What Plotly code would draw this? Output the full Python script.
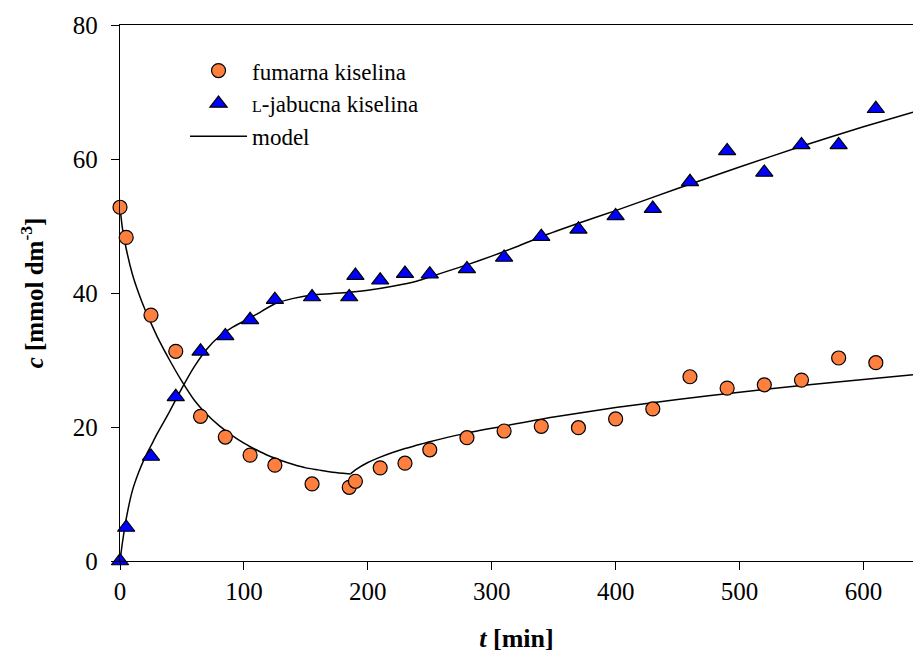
import plotly.graph_objects as go

# measured data
t_fum = [0, 5, 25, 45, 65, 85, 105, 125, 155, 185, 190, 210, 230, 250, 280, 310, 340, 370, 400, 430, 460, 490, 520, 550, 580, 610]
c_fum = [52.8, 48.3, 36.7, 31.3, 21.6, 18.5, 15.8, 14.3, 11.5, 11.0, 11.9, 13.9, 14.6, 16.6, 18.4, 19.4, 20.1, 19.9, 21.2, 22.7, 27.5, 25.8, 26.3, 27.0, 30.3, 29.6]

t_mal = [0, 5, 25, 45, 65, 85, 105, 125, 155, 185, 190, 210, 230, 250, 280, 310, 340, 370, 400, 430, 460, 490, 520, 550, 580, 610]
c_mal = [0.0, 5.0, 15.6, 24.5, 31.3, 33.6, 36.0, 39.0, 39.4, 39.4, 42.6, 41.9, 42.9, 42.8, 43.6, 45.3, 48.4, 49.5, 51.5, 52.6, 56.6, 61.2, 58.0, 62.1, 62.1, 67.5]

t_mod_fum1 = [0, 2, 5, 10, 15, 20, 25, 30, 40, 50, 60, 70, 80, 90, 100, 110, 120, 130, 140, 150, 160, 170, 180, 186]
c_mod_fum1 = [52.8, 49.6, 46.6, 42.8, 40.0, 37.6, 35.5, 33.5, 30.0, 26.8, 24.0, 21.9, 20.2, 18.8, 17.6, 16.6, 15.7, 15.0, 14.4, 13.9, 13.6, 13.3, 13.1, 13.0]
t_mod_fum2 = [186, 190, 200, 210, 220, 230, 240, 250, 275, 300, 350, 400, 450, 500, 550, 600, 640]
c_mod_fum2 = [13.0, 13.6, 14.7, 15.5, 16.2, 16.8, 17.3, 17.8, 18.9, 19.8, 21.5, 22.9, 24.1, 25.2, 26.2, 27.1, 27.8]

t_mod_mal = [0, 2, 5, 10, 15, 20, 25, 30, 40, 50, 60, 70, 80, 90, 100, 110, 125, 140, 155, 170, 185, 200, 220, 240, 250, 265, 280, 300, 320, 340, 370, 400, 450, 500, 550, 600, 640]
c_mod_mal = [0.0, 2.8, 6.3, 10.5, 13.2, 15.4, 17.2, 19.0, 22.3, 25.8, 29.0, 31.6, 33.5, 34.8, 35.8, 36.8, 38.4, 39.2, 39.7, 39.9, 40.1, 40.4, 41.0, 41.8, 42.4, 43.3, 44.2, 45.5, 46.9, 48.4, 50.4, 52.3, 55.6, 58.8, 61.9, 64.8, 67.0]

x_ticks = [0, 100, 200, 300, 400, 500, 600]
y_ticks = [0, 20, 40, 60, 80]

FONT = "Times New Roman, Liberation Serif, serif"
LINE = dict(color="black", width=1.5, shape="spline", smoothing=0.6)

fig = go.Figure()
fig.add_trace(go.Scatter(x=t_mod_fum1, y=c_mod_fum1, mode="lines", line=LINE, showlegend=False))
fig.add_trace(go.Scatter(x=t_mod_fum2, y=c_mod_fum2, mode="lines", line=LINE, showlegend=False))
fig.add_trace(go.Scatter(x=t_mod_mal, y=c_mod_mal, mode="lines", line=LINE, showlegend=False))
fig.add_trace(go.Scatter(x=t_fum, y=c_fum, mode="markers", name="fumarna kiselina",
                         marker=dict(symbol="circle", size=14, color="#FF7F3F", line=dict(color="black", width=1.2)),
                         cliponaxis=False))
fig.add_trace(go.Scatter(x=t_mal, y=c_mal, mode="markers",
                         name="<span style='font-size:16px'>L</span>-jabucna kiselina",
                         marker=dict(symbol="triangle-up", size=15, color="#0000FF", line=dict(color="black", width=1.2)),
                         cliponaxis=False))
fig.add_trace(go.Scatter(x=[None], y=[None], mode="lines", line=dict(color="black", width=1.5), name="model"))

fig.update_layout(
    width=913, height=655,
    margin=dict(l=120, r=0, t=25, b=94),
    paper_bgcolor="white", plot_bgcolor="white",
    font=dict(family=FONT, size=25, color="black"),
    showlegend=True,
    legend=dict(x=0.082, y=0.955, xanchor="left", yanchor="top", bgcolor="rgba(0,0,0,0)",
                font=dict(family=FONT, size=23), tracegroupgap=0, itemsizing="trace", itemwidth=57),
    xaxis=dict(range=[0, 640], tickvals=x_ticks, ticks="outside", ticklen=8, tickwidth=1.3,
               tickcolor="black", showline=True, linecolor="black", linewidth=1.3, mirror=True,
               showgrid=False, zeroline=False,
               title=dict(text="<b><i>t</i> [min]</b>", font=dict(family=FONT, size=26), standoff=24)),
    yaxis=dict(range=[0, 80], tickvals=y_ticks, ticks="outside", ticklen=8, tickwidth=1.3,
               tickcolor="black", showline=True, linecolor="black", linewidth=1.3,
               showgrid=False, zeroline=False, ticklabelstandoff=8,
               title=dict(text="<b><i>c</i> [mmol dm<sup>-3</sup>]</b>", font=dict(family=FONT, size=25), standoff=22)),
)

fig.write_html("out.html")
